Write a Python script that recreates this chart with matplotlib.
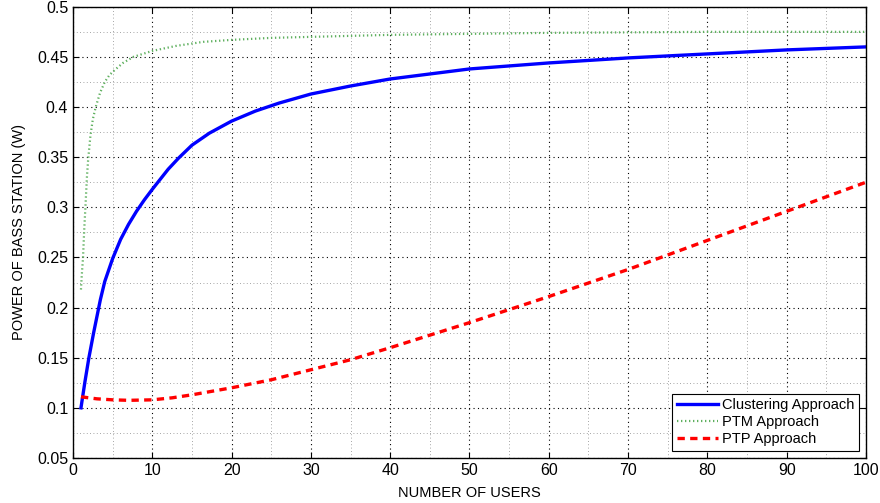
import matplotlib
matplotlib.use("Agg")
import matplotlib.pyplot as plt
from matplotlib.ticker import MultipleLocator, FuncFormatter

plt.rcParams['font.family'] = ['Liberation Sans', 'DejaVu Sans']

# values
clus_x = [1, 1.5, 2, 2.6, 3.45, 4, 5, 6, 7, 8, 9, 10, 11, 12, 13.3, 15, 17.2, 20, 23, 26, 30,
          35, 40, 45, 50, 60, 70, 80, 90, 100]
clus_y = [0.100, 0.126, 0.150, 0.175, 0.208, 0.226, 0.249, 0.268, 0.283, 0.296, 0.3075, 0.318,
          0.328, 0.338, 0.349, 0.362, 0.374, 0.386, 0.396, 0.404, 0.413, 0.421, 0.428, 0.433,
          0.438, 0.444, 0.449, 0.453, 0.457, 0.460]

ptm_x = [1, 1.1, 1.26, 1.4, 1.56, 1.75, 1.9, 2.2, 2.5, 2.86, 3.4, 4.0, 4.6, 5.26, 6.3, 7.6,
         10, 13, 16.4, 20, 25, 30, 40, 50, 60, 80, 100]
ptm_y = [0.218, 0.232, 0.250, 0.276, 0.300, 0.330, 0.347, 0.372, 0.388, 0.400, 0.414, 0.425,
         0.432, 0.437, 0.444, 0.450, 0.456, 0.461, 0.465, 0.467, 0.469, 0.470, 0.472, 0.473,
         0.474, 0.475, 0.475]

ptp_x = [1, 3, 5, 7, 10, 12.5, 15, 20, 25, 30, 35, 40, 50, 60, 70, 80, 90, 100]
ptp_y = [0.111, 0.109, 0.108, 0.1075, 0.108, 0.110, 0.113, 0.120, 0.128, 0.138, 0.148, 0.160,
         0.185, 0.211, 0.238, 0.267, 0.296, 0.325]

fig = plt.figure(figsize=(8.8, 5.03), dpi=100, facecolor="white")
ax = fig.add_axes([0.083, 0.0895, 0.901, 0.897])

ax.plot(clus_x, clus_y, color="#0000ff", lw=2.4, label="Clustering Approach")
ax.plot(ptm_x, ptm_y, color="#5fb05f", lw=1.6, ls=(0, (0.6, 1.2)), label="PTM Approach")
ax.plot(ptp_x, ptp_y, color="#ff0000", lw=2.4, ls=(0, (2.2, 1.6)), label="PTP Approach")

ax.set_xlim(0, 100)
ax.set_ylim(0.05, 0.5)
ax.xaxis.set_major_locator(MultipleLocator(10))
ax.xaxis.set_minor_locator(MultipleLocator(5))
ax.yaxis.set_major_locator(MultipleLocator(0.05))
ax.yaxis.set_minor_locator(MultipleLocator(0.025))
ax.yaxis.set_major_formatter(FuncFormatter(lambda v, p: "%g" % round(v, 3)))

ax.grid(which="major", color="black", ls=(0, (1, 3)), lw=0.8)
ax.grid(which="minor", color="#888888", ls=(0, (1, 3)), lw=0.6)
ax.tick_params(which="both", direction="in", top=True, right=True, labelsize=11.5)
ax.tick_params(which="minor", length=0)
ax.tick_params(which="major", length=4)
for s in ax.spines.values():
    s.set_linewidth(1.0)

ax.set_xlabel("NUMBER OF USERS", fontsize=10.5, labelpad=6)
ax.set_ylabel("POWER OF BASS STATION (W)", fontsize=10.5, labelpad=8)

leg = ax.legend(loc="lower right", fontsize=10.5, fancybox=False, framealpha=1,
                edgecolor="black", borderpad=0.3, labelspacing=0.2, handlelength=2.8,
                handletextpad=0.3, borderaxespad=0.5)
leg.get_frame().set_linewidth(0.8)

fig.savefig("out.png", dpi=100)
